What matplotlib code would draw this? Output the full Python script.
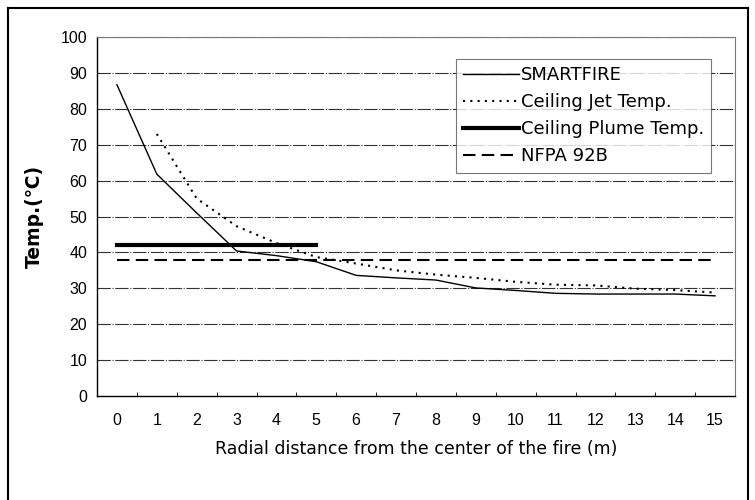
import matplotlib
matplotlib.use("Agg")
import matplotlib.pyplot as plt
import numpy as np
from matplotlib.lines import Line2D

plt.rcParams['font.family'] = ['Liberation Sans', 'DejaVu Sans']

distance = list(range(0, 16))
smartfire = [86.7, 61.8, 51.0, 40.4, 39.1, 37.4, 33.6, 32.9, 32.3, 30.1, 29.4, 28.6, 28.4, 28.4, 28.4, 27.9]
jet_x = list(range(1, 16))
ceiling_jet = [73.0, 55.0, 47.3, 42.6, 38.7, 36.9, 35.0, 33.8, 32.9, 31.8, 31.0, 30.8, 29.9, 29.5, 28.8]
plume_x = [0, 5]
ceiling_plume = [42.0, 42.0]
nfpa_x = [0, 15]
nfpa = [37.8, 37.8]
yticks = list(range(0, 101, 10))

fig = plt.figure(figsize=(7.55, 5.0), dpi=100)
ax = fig.add_axes([97/755, 1-396/500, (735-97)/755, (396-37)/500])

ax.plot(distance, smartfire, color='black', lw=1.0, label='SMARTFIRE', zorder=4)
ax.plot(jet_x, ceiling_jet, color='black', lw=1.5, linestyle=(0, (1, 2.5)), label='Ceiling Jet Temp.', zorder=4)
ax.plot(plume_x, ceiling_plume, color='black', lw=3.0, label='Ceiling Plume Temp.', zorder=4)
ax.plot(nfpa_x, nfpa, color='black', lw=1.5, linestyle=(0, (6, 3)), label='NFPA 92B', zorder=4)

ax.set_xlim(-0.5, 15.5)
ax.set_ylim(0, 100)
ax.set_yticks(yticks)
ax.set_xticks(distance)
ax.set_xticks(np.arange(-0.5, 15.6, 1), minor=True)
ax.tick_params(axis='x', which='major', length=0, pad=12, labelsize=11.5)
ax.tick_params(axis='x', which='minor', length=3, direction='in')
ax.tick_params(axis='y', which='major', length=0, pad=7, labelsize=11.5)

for y in yticks[1:]:
    ax.axhline(y, color='#333333', lw=0.8, linestyle=(0, (12, 1.5, 1, 1.5)), zorder=1)

for s in ['top', 'right']:
    ax.spines[s].set_linestyle((0, (1, 1)))
    ax.spines[s].set_color('#777777')
    ax.spines[s].set_linewidth(0.8)
for s in ['left', 'bottom']:
    ax.spines[s].set_color('black')
    ax.spines[s].set_linewidth(1.0)

ax.set_xlabel('Radial distance from the center of the fire (m)', fontsize=12.5, labelpad=9,
              family=['DejaVu Sans'])
ax.set_ylabel('Temp.(℃)', fontsize=13.5, fontweight='bold', labelpad=12,
              family=['DejaVu Sans', 'Noto Sans CJK SC'])

leg = ax.legend(loc='upper right', bbox_to_anchor=((711-97)/(735-97), (396-59)/(396-37)),
                prop={'family': 'DejaVu Sans', 'size': 13}, frameon=True, fancybox=False,
                handlelength=3.1, handletextpad=0.1, borderpad=0.4, labelspacing=0.5,
                borderaxespad=0)
leg.get_frame().set_edgecolor('#555555')
leg.get_frame().set_linewidth(0.8)
leg.set_zorder(5)

# outer figure border
fig.add_artist(Line2D([8/755, 8/755], [0, 1-8/500], color='black', lw=1.5, transform=fig.transFigure))
fig.add_artist(Line2D([8/755, 748/755], [1-8/500, 1-8/500], color='black', lw=1.5, transform=fig.transFigure))
fig.add_artist(Line2D([748/755, 748/755], [0, 1-8/500], color='black', lw=1.5, transform=fig.transFigure))

fig.savefig('out.png', dpi=100)
